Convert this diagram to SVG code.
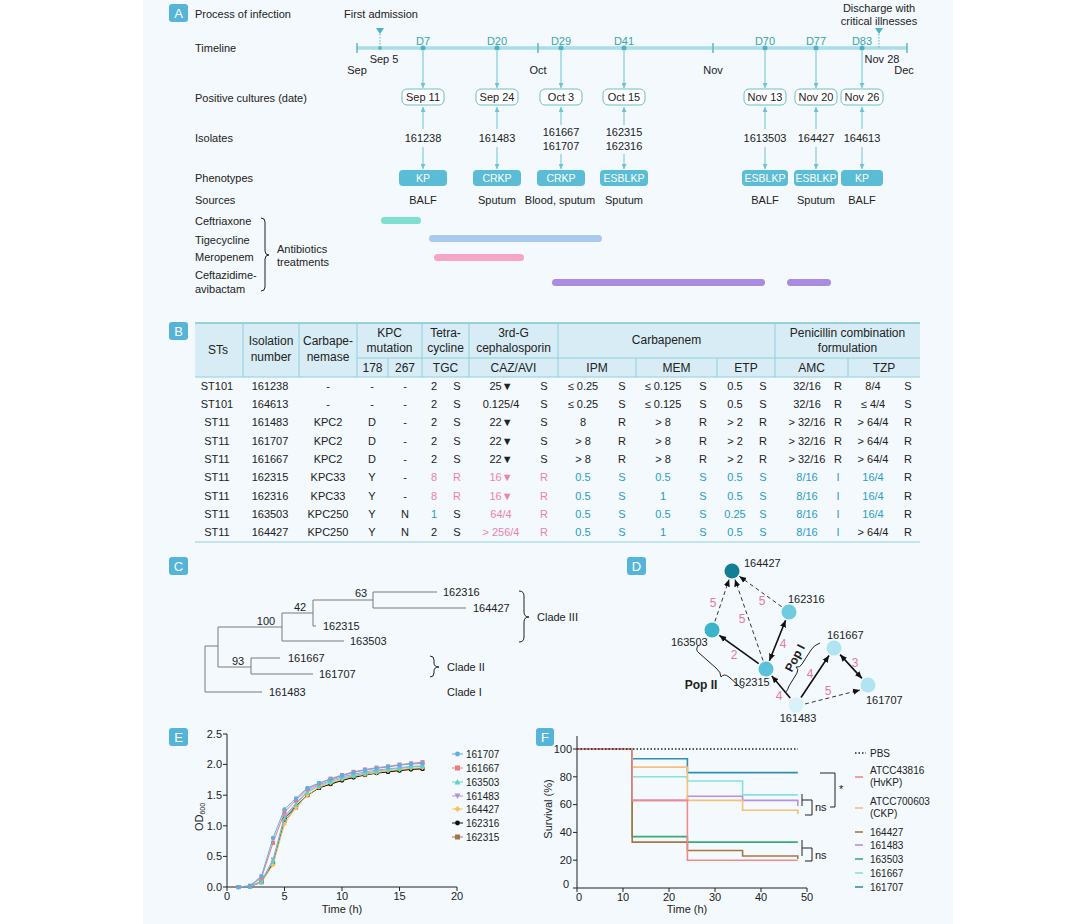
<svg xmlns="http://www.w3.org/2000/svg" width="1083" height="924" viewBox="0 0 1083 924">
<style>
text{font-family:"Liberation Sans",Arial,sans-serif;font-size:11px;fill:#222}
.m{text-anchor:middle}
.e{text-anchor:end}
.h{font-size:12px}
.s10{font-size:10px}
.tl{fill:#36a5a8}
.w{fill:#fff;font-size:10.5px}
.pk{fill:#ec83ab}
.bl{fill:#2a9cc6}
.bd{font-weight:bold;font-size:12px}
.ar{stroke:#6cc4d4;stroke-width:1;marker-end:url(#aA)}
.db{fill:#fff;stroke:#6dbfc8;stroke-width:1}
.pb{fill:#5bbcd5}
.badge{fill:#55b4d8}
.bt{fill:#fff;font-size:13px;text-anchor:middle}
.tr{fill:none;stroke:#7a7a7a;stroke-width:1}
.ax{fill:none;stroke:#222;stroke-width:1}
.gl{stroke:#8fd0de;stroke-width:1;fill:none}
.sol{stroke:#111;stroke-width:1.6;fill:none}
.das{stroke:#333;stroke-width:1;stroke-dasharray:4 3;fill:none}
.lab{fill:#e37aa3;font-size:12px;text-anchor:middle}
.sv{fill:none;stroke-width:1.6}
.ln{fill:none;stroke-width:1}
.br{fill:none;stroke:#222;stroke-width:1}
</style>
<defs>
<marker id="aA" viewBox="0 0 6 6" refX="6" refY="3" markerWidth="5" markerHeight="5" markerUnits="userSpaceOnUse" orient="auto"><path d="M0,0 L6,3 L0,6 z" fill="#6cc4d4"/></marker>
<marker id="aD" viewBox="0 0 8 8" refX="8" refY="4" markerWidth="7" markerHeight="7" markerUnits="userSpaceOnUse" orient="auto-start-reverse"><path d="M0,0.5 L8,4 L0,7.5 z" fill="#111"/></marker>
<marker id="m1" viewBox="-3 -3 6 6" markerWidth="5" markerHeight="5" markerUnits="userSpaceOnUse"><circle r="2.6" fill="#5ab0e8"/></marker>
<marker id="m2" viewBox="-3 -3 6 6" markerWidth="5" markerHeight="5" markerUnits="userSpaceOnUse"><rect x="-2.5" y="-2.5" width="5" height="5" fill="#ee7b7b"/></marker>
<marker id="m3" viewBox="-3 -3 6 6" markerWidth="5" markerHeight="5" markerUnits="userSpaceOnUse"><path d="M0,-3 L3,2.5 L-3,2.5 z" fill="#5fd3c3"/></marker>
<marker id="m4" viewBox="-3 -3 6 6" markerWidth="5" markerHeight="5" markerUnits="userSpaceOnUse"><path d="M0,3 L3,-2.5 L-3,-2.5 z" fill="#b98fdc"/></marker>
<marker id="m5" viewBox="-3 -3 6 6" markerWidth="5" markerHeight="5" markerUnits="userSpaceOnUse"><path d="M0,-3 L3,0 L0,3 L-3,0 z" fill="#f7c25c"/></marker>
<marker id="m6" viewBox="-3 -3 6 6" markerWidth="5" markerHeight="5" markerUnits="userSpaceOnUse"><circle r="2.6" fill="#111"/></marker>
<marker id="m7" viewBox="-3 -3 6 6" markerWidth="5" markerHeight="5" markerUnits="userSpaceOnUse"><rect x="-2.5" y="-2.5" width="5" height="5" fill="#a57443"/></marker>
</defs>
<rect x="0" y="0" width="1083" height="924" fill="#fff"/>
<rect x="143" y="0" width="810" height="924" fill="#f3f9fc"/>

<!-- Panel A -->
<g id="badgeA"><rect class="badge" x="169" y="4" width="19" height="18" rx="3"/><text class="bt" x="178.5" y="18">A</text></g>
<g id="panelA-labels">
<text x="195" y="18">Process of infection</text>
<text x="195" y="52">Timeline</text>
<text x="195" y="102">Positive cultures (date)</text>
<text x="195" y="142">Isolates</text>
<text x="195" y="182">Phenotypes</text>
<text x="195" y="204">Sources</text>
<text x="195" y="225">Ceftriaxone</text>
<text x="195" y="244">Tigecycline</text>
<text x="195" y="261">Meropenem</text>
<text x="195" y="279">Ceftazidime-</text>
<text x="195" y="293">avibactam</text>
<path class="br" d="M261,218 Q265,218 265,222 L265,251 Q265,255 269,255 Q265,255 265,259 L265,287 Q265,291 261,291"/>
<text x="277" y="253">Antibiotics</text>
<text x="277" y="266">treatments</text>
</g>
<g id="timeline">
<line x1="357" y1="48" x2="907" y2="48" stroke="#a9dde9" stroke-width="3.5"/>
<path d="M357,43V53M538,43V53M713,43V53M907,43V53" stroke="#5fb8c8" stroke-width="1.5"/>
<text class="m" x="357" y="74">Sep</text>
<text class="m" x="538" y="74">Oct</text>
<text class="m" x="713" y="74">Nov</text>
<text class="m" x="904" y="74">Dec</text>
<text class="m" x="381" y="18">First admission</text>
<path d="M376,28 L384,28 L380,34 z" fill="#4cb3c4"/>
<line x1="380" y1="34" x2="380" y2="48" stroke="#5fb8c8" stroke-dasharray="1.5 1.5"/>
<circle cx="380" cy="48" r="2" fill="#5fb8c8"/>
<text class="m" x="384" y="63">Sep 5</text>
<text class="m" x="879" y="12">Discharge with</text>
<text class="m" x="879" y="25">critical illnesses</text>
<path d="M875,28 L883,28 L879,34 z" fill="#4cb3c4"/>
<line x1="879" y1="34" x2="879" y2="48" stroke="#5fb8c8" stroke-dasharray="1.5 1.5"/>
<text class="m" x="882" y="63">Nov 28</text>
</g>
<g id="ev-D7">
<circle cx="423" cy="48" r="2.5" fill="#4cb3c4"/><text class="m tl" x="423" y="45">D7</text>
<line class="ar" x1="423" y1="51" x2="423" y2="88"/>
<rect class="db" x="402" y="89" width="42" height="16" rx="5"/><text class="m" x="423" y="101">Sep 11</text>
<line class="ar" x1="423" y1="129" x2="423" y2="107"/>
<text class="m" x="423" y="142">161238</text>
<line class="ar" x1="423" y1="147" x2="423" y2="169"/>
<rect class="pb" x="399" y="170" width="48" height="16" rx="4"/><text class="m w" x="423" y="182">KP</text>
<text class="m" x="423" y="204">BALF</text>
</g>
<g id="ev-D20">
<circle cx="497" cy="48" r="2.5" fill="#4cb3c4"/><text class="m tl" x="497" y="45">D20</text>
<line class="ar" x1="497" y1="51" x2="497" y2="88"/>
<rect class="db" x="476" y="89" width="42" height="16" rx="5"/><text class="m" x="497" y="101">Sep 24</text>
<line class="ar" x1="497" y1="129" x2="497" y2="107"/>
<text class="m" x="497" y="142">161483</text>
<line class="ar" x1="497" y1="147" x2="497" y2="169"/>
<rect class="pb" x="473" y="170" width="48" height="16" rx="4"/><text class="m w" x="497" y="182">CRKP</text>
<text class="m" x="497" y="204">Sputum</text>
</g>
<g id="ev-D29">
<circle cx="561" cy="48" r="2.5" fill="#4cb3c4"/><text class="m tl" x="561" y="45">D29</text>
<line class="ar" x1="561" y1="51" x2="561" y2="88"/>
<rect class="db" x="540" y="89" width="42" height="16" rx="5"/><text class="m" x="561" y="101">Oct 3</text>
<line class="ar" x1="561" y1="125" x2="561" y2="107"/>
<text class="m" x="561" y="136">161667</text><text class="m" x="561" y="150">161707</text>
<line class="ar" x1="561" y1="154" x2="561" y2="169"/>
<rect class="pb" x="537" y="170" width="48" height="16" rx="4"/><text class="m w" x="561" y="182">CRKP</text>
<text class="m" x="560" y="204">Blood, sputum</text>
</g>
<g id="ev-D41">
<circle cx="624" cy="48" r="2.5" fill="#4cb3c4"/><text class="m tl" x="624" y="45">D41</text>
<line class="ar" x1="624" y1="51" x2="624" y2="88"/>
<rect class="db" x="603" y="89" width="42" height="16" rx="5"/><text class="m" x="624" y="101">Oct 15</text>
<line class="ar" x1="624" y1="125" x2="624" y2="107"/>
<text class="m" x="624" y="136">162315</text><text class="m" x="624" y="150">162316</text>
<line class="ar" x1="624" y1="154" x2="624" y2="169"/>
<rect class="pb" x="600" y="170" width="48" height="16" rx="4"/><text class="m w" x="624" y="182">ESBLKP</text>
<text class="m" x="624" y="204">Sputum</text>
</g>
<g id="ev-D70">
<circle cx="765" cy="48" r="2.5" fill="#4cb3c4"/><text class="m tl" x="765" y="45">D70</text>
<line class="ar" x1="765" y1="51" x2="765" y2="88"/>
<rect class="db" x="744" y="89" width="42" height="16" rx="5"/><text class="m" x="765" y="101">Nov 13</text>
<line class="ar" x1="765" y1="129" x2="765" y2="107"/>
<text class="m" x="765" y="142">1613503</text>
<line class="ar" x1="765" y1="147" x2="765" y2="169"/>
<rect class="pb" x="742" y="170" width="46" height="16" rx="4"/><text class="m w" x="765" y="182">ESBLKP</text>
<text class="m" x="765" y="204">BALF</text>
</g>
<g id="ev-D77">
<circle cx="816" cy="48" r="2.5" fill="#4cb3c4"/><text class="m tl" x="816" y="45">D77</text>
<line class="ar" x1="816" y1="51" x2="816" y2="88"/>
<rect class="db" x="795" y="89" width="42" height="16" rx="5"/><text class="m" x="816" y="101">Nov 20</text>
<line class="ar" x1="816" y1="129" x2="816" y2="107"/>
<text class="m" x="816" y="142">164427</text>
<line class="ar" x1="816" y1="147" x2="816" y2="169"/>
<rect class="pb" x="794" y="170" width="44" height="16" rx="4"/><text class="m w" x="816" y="182">ESBLKP</text>
<text class="m" x="816" y="204">Sputum</text>
</g>
<g id="ev-D83">
<circle cx="862" cy="48" r="2.5" fill="#4cb3c4"/><text class="m tl" x="862" y="45">D83</text>
<line class="ar" x1="862" y1="51" x2="862" y2="88"/>
<rect class="db" x="841" y="89" width="42" height="16" rx="5"/><text class="m" x="862" y="101">Nov 26</text>
<line class="ar" x1="862" y1="129" x2="862" y2="107"/>
<text class="m" x="862" y="142">164613</text>
<line class="ar" x1="862" y1="147" x2="862" y2="169"/>
<rect class="pb" x="841" y="170" width="42" height="16" rx="4"/><text class="m w" x="862" y="182">KP</text>
<text class="m" x="862" y="204">BALF</text>
</g>
<g id="antibiotic-bars">
<rect x="381" y="217" width="40" height="7" rx="3.5" fill="#7edfd0"/>
<rect x="429" y="235" width="173" height="7" rx="3.5" fill="#a9c9ef"/>
<rect x="434" y="254" width="90" height="7" rx="3.5" fill="#f6a5c5"/>
<rect x="552" y="279" width="213" height="7" rx="3.5" fill="#a98be2"/>
<rect x="787" y="279" width="44" height="7" rx="3.5" fill="#a98be2"/>
</g>

<!-- Panel B -->
<g id="badgeB"><rect class="badge" x="169" y="322" width="19" height="18" rx="3"/><text class="bt" x="178.5" y="336">B</text></g>
<g id="table">
<rect x="195" y="323" width="725" height="54" fill="#d7ecf5"/>
<line x1="195" y1="323" x2="920" y2="323" stroke="#7fc6d6" stroke-width="1.3"/>
<path class="gl" d="M357,358H920M195,377H920M195,542H920"/>
<path class="gl" d="M243,323V377M299,323V377M357,323V377M422,323V377M469,323V377M558,323V377M775,323V377M388,358V377M636,358V377M717,358V377M848,358V377"/>
<g class="h">
<text class="m h" x="218" y="354">STs</text>
<text class="m h" x="271" y="345">Isolation</text><text class="m h" x="271" y="361">number</text>
<text class="m h" x="328" y="345">Carbape-</text><text class="m h" x="328" y="361">nemase</text>
<text class="m h" x="389.5" y="337">KPC</text><text class="m h" x="389.5" y="352">mutation</text>
<text class="m h" x="372.5" y="372">178</text><text class="m h" x="405" y="372">267</text>
<text class="m h" x="445.5" y="337">Tetra-</text><text class="m h" x="445.5" y="352">cycline</text>
<text class="m h" x="445.5" y="372">TGC</text>
<text class="m h" x="513.5" y="337">3rd-G</text><text class="m h" x="513.5" y="352">cephalosporin</text>
<text class="m h" x="513.5" y="372">CAZ/AVI</text>
<text class="m h" x="666.5" y="344">Carbapenem</text>
<text class="m h" x="847.5" y="337">Penicillin combination</text><text class="m h" x="847.5" y="352">formulation</text>
<text class="m h" x="597" y="372">IPM</text><text class="m h" x="676.5" y="372">MEM</text><text class="m h" x="746" y="372">ETP</text>
<text class="m h" x="811.5" y="372">AMC</text><text class="m h" x="884" y="372">TZP</text>
</g>
<g id="row1">
<text class="m" x="217" y="390">ST101</text><text class="m" x="270" y="390">161238</text><text class="m" x="328" y="390">-</text><text class="m" x="372" y="390">-</text><text class="m" x="405" y="390">-</text>
<text class="m" x="434" y="390">2</text><text class="m" x="457" y="390">S</text><text class="m" x="501" y="390">25▼</text><text class="m" x="544" y="390">S</text>
<text class="m" x="583" y="390">≤ 0.25</text><text class="m" x="622" y="390">S</text><text class="m" x="663" y="390">≤ 0.125</text><text class="m" x="703" y="390">S</text>
<text class="m" x="735" y="390">0.5</text><text class="m" x="763" y="390">S</text><text class="m" x="807" y="390">32/16</text><text class="m" x="838" y="390">R</text>
<text class="m" x="873" y="390">8/4</text><text class="m" x="908" y="390">S</text>
</g>
<g id="row2">
<text class="m" x="217" y="408">ST101</text><text class="m" x="270" y="408">164613</text><text class="m" x="328" y="408">-</text><text class="m" x="372" y="408">-</text><text class="m" x="405" y="408">-</text>
<text class="m" x="434" y="408">2</text><text class="m" x="457" y="408">S</text><text class="m" x="501" y="408">0.125/4</text><text class="m" x="544" y="408">S</text>
<text class="m" x="583" y="408">≤ 0.25</text><text class="m" x="622" y="408">S</text><text class="m" x="663" y="408">≤ 0.125</text><text class="m" x="703" y="408">S</text>
<text class="m" x="735" y="408">0.5</text><text class="m" x="763" y="408">S</text><text class="m" x="807" y="408">32/16</text><text class="m" x="838" y="408">R</text>
<text class="m" x="873" y="408">≤ 4/4</text><text class="m" x="908" y="408">S</text>
</g>
<g id="row3">
<text class="m" x="217" y="426">ST11</text><text class="m" x="270" y="426">161483</text><text class="m" x="328" y="426">KPC2</text><text class="m" x="372" y="426">D</text><text class="m" x="405" y="426">-</text>
<text class="m" x="434" y="426">2</text><text class="m" x="457" y="426">S</text><text class="m" x="501" y="426">22▼</text><text class="m" x="544" y="426">S</text>
<text class="m" x="583" y="426">8</text><text class="m" x="622" y="426">R</text><text class="m" x="663" y="426">&gt; 8</text><text class="m" x="703" y="426">R</text>
<text class="m" x="735" y="426">&gt; 2</text><text class="m" x="763" y="426">R</text><text class="m" x="807" y="426">&gt; 32/16</text><text class="m" x="838" y="426">R</text>
<text class="m" x="873" y="426">&gt; 64/4</text><text class="m" x="908" y="426">R</text>
</g>
<g id="row4">
<text class="m" x="217" y="445">ST11</text><text class="m" x="270" y="445">161707</text><text class="m" x="328" y="445">KPC2</text><text class="m" x="372" y="445">D</text><text class="m" x="405" y="445">-</text>
<text class="m" x="434" y="445">2</text><text class="m" x="457" y="445">S</text><text class="m" x="501" y="445">22▼</text><text class="m" x="544" y="445">S</text>
<text class="m" x="583" y="445">&gt; 8</text><text class="m" x="622" y="445">R</text><text class="m" x="663" y="445">&gt; 8</text><text class="m" x="703" y="445">R</text>
<text class="m" x="735" y="445">&gt; 2</text><text class="m" x="763" y="445">R</text><text class="m" x="807" y="445">&gt; 32/16</text><text class="m" x="838" y="445">R</text>
<text class="m" x="873" y="445">&gt; 64/4</text><text class="m" x="908" y="445">R</text>
</g>
<g id="row5">
<text class="m" x="217" y="463">ST11</text><text class="m" x="270" y="463">161667</text><text class="m" x="328" y="463">KPC2</text><text class="m" x="372" y="463">D</text><text class="m" x="405" y="463">-</text>
<text class="m" x="434" y="463">2</text><text class="m" x="457" y="463">S</text><text class="m" x="501" y="463">22▼</text><text class="m" x="544" y="463">S</text>
<text class="m" x="583" y="463">&gt; 8</text><text class="m" x="622" y="463">R</text><text class="m" x="663" y="463">&gt; 8</text><text class="m" x="703" y="463">R</text>
<text class="m" x="735" y="463">&gt; 2</text><text class="m" x="763" y="463">R</text><text class="m" x="807" y="463">&gt; 32/16</text><text class="m" x="838" y="463">R</text>
<text class="m" x="873" y="463">&gt; 64/4</text><text class="m" x="908" y="463">R</text>
</g>
<g id="row6">
<text class="m" x="217" y="481">ST11</text><text class="m" x="270" y="481">162315</text><text class="m" x="328" y="481">KPC33</text><text class="m" x="372" y="481">Y</text><text class="m" x="405" y="481">-</text>
<text class="m pk" x="434" y="481">8</text><text class="m pk" x="457" y="481">R</text><text class="m pk" x="501" y="481">16▼</text><text class="m pk" x="544" y="481">R</text>
<text class="m bl" x="583" y="481">0.5</text><text class="m bl" x="622" y="481">S</text><text class="m bl" x="663" y="481">0.5</text><text class="m bl" x="703" y="481">S</text>
<text class="m bl" x="735" y="481">0.5</text><text class="m bl" x="763" y="481">S</text><text class="m bl" x="807" y="481">8/16</text><text class="m bl" x="838" y="481">I</text>
<text class="m bl" x="873" y="481">16/4</text><text class="m" x="908" y="481">R</text>
</g>
<g id="row7">
<text class="m" x="217" y="500">ST11</text><text class="m" x="270" y="500">162316</text><text class="m" x="328" y="500">KPC33</text><text class="m" x="372" y="500">Y</text><text class="m" x="405" y="500">-</text>
<text class="m pk" x="434" y="500">8</text><text class="m pk" x="457" y="500">R</text><text class="m pk" x="501" y="500">16▼</text><text class="m pk" x="544" y="500">R</text>
<text class="m bl" x="583" y="500">0.5</text><text class="m bl" x="622" y="500">S</text><text class="m bl" x="663" y="500">1</text><text class="m bl" x="703" y="500">S</text>
<text class="m bl" x="735" y="500">0.5</text><text class="m bl" x="763" y="500">S</text><text class="m bl" x="807" y="500">8/16</text><text class="m bl" x="838" y="500">I</text>
<text class="m bl" x="873" y="500">16/4</text><text class="m" x="908" y="500">R</text>
</g>
<g id="row8">
<text class="m" x="217" y="518">ST11</text><text class="m" x="270" y="518">163503</text><text class="m" x="328" y="518">KPC250</text><text class="m" x="372" y="518">Y</text><text class="m" x="405" y="518">N</text>
<text class="m bl" x="434" y="518">1</text><text class="m" x="457" y="518">S</text><text class="m pk" x="501" y="518">64/4</text><text class="m pk" x="544" y="518">R</text>
<text class="m bl" x="583" y="518">0.5</text><text class="m bl" x="622" y="518">S</text><text class="m bl" x="663" y="518">0.5</text><text class="m bl" x="703" y="518">S</text>
<text class="m bl" x="735" y="518">0.25</text><text class="m bl" x="763" y="518">S</text><text class="m bl" x="807" y="518">8/16</text><text class="m bl" x="838" y="518">I</text>
<text class="m bl" x="873" y="518">16/4</text><text class="m" x="908" y="518">R</text>
</g>
<g id="row9">
<text class="m" x="217" y="536">ST11</text><text class="m" x="270" y="536">164427</text><text class="m" x="328" y="536">KPC250</text><text class="m" x="372" y="536">Y</text><text class="m" x="405" y="536">N</text>
<text class="m" x="434" y="536">2</text><text class="m" x="457" y="536">S</text><text class="m pk" x="501" y="536">&gt; 256/4</text><text class="m pk" x="544" y="536">R</text>
<text class="m bl" x="583" y="536">0.5</text><text class="m bl" x="622" y="536">S</text><text class="m bl" x="663" y="536">1</text><text class="m bl" x="703" y="536">S</text>
<text class="m bl" x="735" y="536">0.5</text><text class="m bl" x="763" y="536">S</text><text class="m bl" x="807" y="536">8/16</text><text class="m bl" x="838" y="536">I</text>
<text class="m" x="873" y="536">&gt; 64/4</text><text class="m" x="908" y="536">R</text>
</g>
</g>

<!-- Panel C -->
<g id="badgeC"><rect class="badge" x="169" y="557" width="19" height="18" rx="3"/><text class="bt" x="178.5" y="571">C</text></g>
<g id="tree">
<path class="tr" d="M205,646V692H262M205,646H218M218,627V667M218,667H251M251,658V674M251,658H280M251,674H313M218,627H282M282,613V641M282,641H344M282,613H313M313,600V626M313,626H316M313,600H373M373,592V608M373,592H437M373,608H466"/>
<text x="269" y="696">161483</text>
<text x="288" y="662">161667</text>
<text x="319" y="678">161707</text>
<text x="350" y="645">163503</text>
<text x="323" y="630">162315</text>
<text x="443" y="596">162316</text>
<text x="473" y="612">164427</text>
<text class="m" x="238" y="665">93</text>
<text class="m" x="266" y="625">100</text>
<text class="m" x="300" y="611">42</text>
<text class="m" x="361" y="597">63</text>
<path class="br" d="M519,591 Q524,591 524,596 L524,612 Q524,617 529,617 Q524,617 524,622 L524,637 Q524,642 519,642"/>
<text x="537" y="621">Clade III</text>
<path class="br" d="M430,656 Q434,656 434,660 V663 Q434,667 439,667 Q434,667 434,671 V673 Q434,677 430,677"/>
<text x="447" y="671">Clade II</text>
<text x="447" y="696">Clade I</text>
</g>

<!-- Panel D -->
<g id="badgeD"><rect class="badge" x="627" y="557" width="19" height="18" rx="3"/><text class="bt" x="636.5" y="571">D</text></g>
<g id="connectors">
<line class="das" x1="714.9" y1="621.5" x2="729.1" y2="579.5" marker-end="url(#aD)"/>
<line class="das" x1="763" y1="660.5" x2="735" y2="579.5" marker-end="url(#aD)"/>
<line class="das" x1="781.7" y1="606.7" x2="739.3" y2="576.3" marker-end="url(#aD)"/>
<line class="sol" x1="769.4" y1="660.7" x2="785.6" y2="620.3" marker-start="url(#aD)" marker-end="url(#aD)"/>
<line class="sol" x1="758.7" y1="663.7" x2="719.3" y2="635.3" marker-end="url(#aD)"/>
<line class="sol" x1="790.2" y1="698.1" x2="771.8" y2="675.9" marker-end="url(#aD)"/>
<line class="sol" x1="801" y1="697.5" x2="829" y2="655.5" marker-end="url(#aD)"/>
<line class="sol" x1="840.1" y1="654.6" x2="861.9" y2="678.4" marker-start="url(#aD)" marker-end="url(#aD)"/>
<line class="das" x1="805" y1="704" x2="860" y2="690" marker-end="url(#aD)"/>
<text class="lab" x="713" y="607">5</text>
<text class="lab" x="742" y="623">5</text>
<text class="lab" x="762" y="605">5</text>
<text class="lab" x="783" y="648">4</text>
<text class="lab" x="734" y="659">2</text>
<text class="lab" x="779" y="700">4</text>
<text class="lab" x="810" y="678">4</text>
<text class="lab" x="855" y="667">3</text>
<text class="lab" x="828" y="695">5</text>
</g>
<g id="n164427"><circle cx="732" cy="571" r="7.5" fill="#127f95"/><text x="744" y="567">164427</text></g>
<g id="n162316"><circle cx="789" cy="612" r="7.5" fill="#6fcbe0"/><text x="788" y="603">162316</text></g>
<g id="n163503"><circle cx="712" cy="630" r="7.5" fill="#3bb3c9"/><text x="671" y="646">163503</text></g>
<g id="n162315"><circle cx="766" cy="669" r="7.5" fill="#5cc2da"/><text x="733" y="686">162315</text></g>
<g id="n161667"><circle cx="834" cy="648" r="7.5" fill="#b0e4f2"/><text x="827" y="639">161667</text></g>
<g id="n161707"><circle cx="868" cy="685" r="7.5" fill="#b0e4f2"/><text x="866" y="704">161707</text></g>
<g id="n161483"><circle cx="796" cy="705" r="7.5" fill="#d9f1f8"/><text class="m" x="798" y="722">161483</text></g>
<g id="pops">
<path class="br" d="M785,693 Q788,690 789,686 L797,673 Q799,669 796,667 Q800,668 802,664 L811,650 Q814,645 820,643"/>
<text class="bd m" transform="translate(795,658) rotate(-62)" x="0" y="4">Pop I</text>
<path class="br" d="M698,646 Q695,650 699,653 L716,668 Q721,672 721,677 Q724,673 729,677 L739,686 Q743,690 744,686"/>
<text class="bd m" x="701" y="689">Pop II</text>
</g>

<!-- Panel E -->
<g id="badgeE"><rect class="badge" x="169" y="728" width="19" height="18" rx="3"/><text class="bt" x="178.5" y="742">E</text></g>
<g id="chartE">
<path class="ax" d="M227,734V887H457M223,734H227M223,764.4H227M223,795.2H227M223,825.8H227M223,856.4H227M223,887H227M227,887V891M284.5,887V891M342,887V891M399.5,887V891M457,887V891"/>
<text class="e" x="222" y="738">2.5</text><text class="e" x="222" y="768">2.0</text><text class="e" x="222" y="799">1.5</text>
<text class="e" x="222" y="830">1.0</text><text class="e" x="222" y="860">0.5</text><text class="e" x="222" y="891">0.0</text>
<text class="m" x="227" y="900">0</text><text class="m" x="284.5" y="900">5</text><text class="m" x="342" y="900">10</text><text class="m" x="399.5" y="900">15</text><text class="m" x="457" y="900">20</text>
<text class="m" x="342" y="913">Time (h)</text>
<text class="m" transform="translate(203,817) rotate(-90)" x="0" y="0">OD<tspan font-size="7" dy="2">600</tspan></text>
<polyline class="ln" stroke="#a57443" marker-start="url(#m7)" marker-mid="url(#m7)" marker-end="url(#m7)" points="238.5,887 250,886.4 261.5,882.1 273,863.7 284.5,820.9 296,807.4 307.5,795.2 319,787.9 330.5,783.6 342,779.9 353.5,776.8 365,774.4 376.5,772.6 388,771.3 399.5,770.1 411,768.9 422.5,768.3"/>
<polyline class="ln" stroke="#111" marker-start="url(#m6)" marker-mid="url(#m6)" marker-end="url(#m6)" points="238.5,887 250,886.4 261.5,882.1 273,862.5 284.5,818.5 296,806.2 307.5,795.2 319,787.9 330.5,784.2 342,780.5 353.5,777.5 365,775 376.5,773.2 388,771.9 399.5,770.7 411,769.5 422.5,768.9"/>
<polyline class="ln" stroke="#f7c25c" marker-start="url(#m5)" marker-mid="url(#m5)" marker-end="url(#m5)" points="238.5,887 250,886.4 261.5,882.1 273,865 284.5,824 296,807.4 307.5,795.2 319,787.2 330.5,783 342,779.3 353.5,776.2 365,774.4 376.5,772.6 388,770.7 399.5,769.5 411,768.3 422.5,767.7"/>
<polyline class="ln" stroke="#b98fdc" marker-start="url(#m4)" marker-mid="url(#m4)" marker-end="url(#m4)" points="238.5,887 250,886.4 261.5,880.9 273,859.5 284.5,816.6 296,803.2 307.5,790.9 319,784.8 330.5,780.5 342,776.8 353.5,774.4 365,771.9 376.5,770.1 388,768.9 399.5,767.7 411,766.4 422.5,765.8"/>
<polyline class="ln" stroke="#5fd3c3" marker-start="url(#m3)" marker-mid="url(#m3)" marker-end="url(#m3)" points="238.5,887 250,886.4 261.5,882.1 273,861.3 284.5,818.5 296,804.4 307.5,792.1 319,786 330.5,781.7 342,778.1 353.5,775.6 365,773.2 376.5,771.3 388,769.5 399.5,768.3 411,767 422.5,766.4"/>
<polyline class="ln" stroke="#ee7b7b" marker-start="url(#m2)" marker-mid="url(#m2)" marker-end="url(#m2)" points="238.5,887 250,885.8 261.5,877.8 273,842.9 284.5,812.3 296,800.1 307.5,789.1 319,783.6 330.5,778.7 342,775 353.5,771.9 365,769.5 376.5,767.7 388,766.4 399.5,764.6 411,763.4 422.5,762.2"/>
<polyline class="ln" stroke="#5ab0e8" marker-start="url(#m1)" marker-mid="url(#m1)" marker-end="url(#m1)" points="238.5,887 250,885.8 261.5,876 273,838 284.5,809.3 296,798.3 307.5,787.9 319,783 330.5,779.3 342,775.6 353.5,772.6 365,770.1 376.5,768.3 388,767 399.5,765.2 411,764 422.5,763.4"/>
</g>
<g id="legendE">
<line class="ln" stroke="#5ab0e8" x1="452" y1="754" x2="463" y2="754"/><circle cx="457.5" cy="754" r="2.4" fill="#5ab0e8"/><text class="s10" x="466" y="758">161707</text>
<line class="ln" stroke="#ee7b7b" x1="452" y1="768" x2="463" y2="768"/><rect x="455" y="765.5" width="5" height="5" fill="#ee7b7b"/><text class="s10" x="466" y="772">161667</text>
<line class="ln" stroke="#5fd3c3" x1="452" y1="782" x2="463" y2="782"/><path d="M457.5,779 L460.5,784.5 L454.5,784.5 z" fill="#5fd3c3"/><text class="s10" x="466" y="786">163503</text>
<line class="ln" stroke="#b98fdc" x1="452" y1="796" x2="463" y2="796"/><path d="M457.5,799 L460.5,793.5 L454.5,793.5 z" fill="#b98fdc"/><text class="s10" x="466" y="800">161483</text>
<line class="ln" stroke="#f7c25c" x1="452" y1="809" x2="463" y2="809"/><path d="M457.5,806 L460.5,809 L457.5,812 L454.5,809 z" fill="#f7c25c"/><text class="s10" x="466" y="813">164427</text>
<line class="ln" stroke="#111" x1="452" y1="823" x2="463" y2="823"/><circle cx="457.5" cy="823" r="2.4" fill="#111"/><text class="s10" x="466" y="827">162316</text>
<line class="ln" stroke="#a57443" x1="452" y1="837" x2="463" y2="837"/><rect x="455" y="834.5" width="5" height="5" fill="#a57443"/><text class="s10" x="466" y="841">162315</text>
</g>

<!-- Panel F -->
<g id="badgeF"><rect class="badge" x="536" y="728" width="18" height="18" rx="3"/><text class="bt" x="545" y="742">F</text></g>
<g id="chartF">
<path class="ax" d="M577,736V888H807M573,749H577M573,776.8H577M573,804.6H577M573,832.4H577M573,860.2H577M573,888H577M577,888V892M623,888V892M669,888V892M715,888V892M761,888V892M807,888V892"/>
<text class="e" x="572" y="753">100</text><text class="e" x="572" y="781">80</text><text class="e" x="572" y="808">60</text>
<text class="e" x="572" y="836">40</text><text class="e" x="572" y="864">20</text><text class="e" x="569" y="888">0</text>
<text class="m" x="579" y="901">0</text><text class="m" x="623" y="901">10</text><text class="m" x="669" y="901">20</text><text class="m" x="715" y="901">30</text><text class="m" x="761" y="901">40</text><text class="m" x="807" y="901">50</text>
<text class="m" x="687" y="913">Time (h)</text>
<text class="m" transform="translate(552,809) rotate(-90)" x="0" y="0">Survival (%)</text>
<path class="sv" stroke="#2f8fb0" d="M577,749H632.2V758.7H687.4V772.6H797.8"/>
<path class="sv" stroke="#86e2da" d="M577,749H632.2V776.8H687.4V781H742.6V794.9H797.8"/>
<path class="sv" stroke="#b78fe0" d="M577,749H632.2V800.4H687.4V796.3H742.6V800.4H797.8V806"/>
<path class="sv" stroke="#f7c07a" d="M577,749H632.2V767.1H687.4V800.4H742.6V810.2H797.8V814"/>
<path class="sv" stroke="#3caa78" d="M577,749H632.2V836.6H687.4V842.1H797.8"/>
<path class="sv" stroke="#a87840" d="M577,749H632.2V842.1H687.4V850.5H742.6V856H797.8V859"/>
<path class="sv" stroke="#f08a8a" d="M577,749H632.2V800.4H687.4V860.2H797.8"/>
<path fill="none" stroke="#222" stroke-width="1.3" stroke-dasharray="1.5 2" d="M577,749H798"/>
<path class="br" d="M802,794V806M802,800H812V815H805"/>
<text x="815" y="811">ns</text>
<path class="br" d="M820,773H835V807H830"/>
<text x="839" y="793">*</text>
<path class="br" d="M802,840V856M802,848H812V861H805"/>
<text x="815" y="859">ns</text>
</g>
<g id="legendF">
<path fill="none" stroke="#222" stroke-width="1.3" stroke-dasharray="1.5 2" d="M855,753H866"/><text class="s10" x="870" y="757">PBS</text>
<line class="sv" stroke="#f08a8a" x1="855" y1="777" x2="863" y2="777"/><text class="s10" x="870" y="774">ATCC43816</text><text class="s10" x="870" y="786">(HvKP)</text>
<line class="sv" stroke="#f7c07a" x1="855" y1="808" x2="863" y2="808"/><text class="s10" x="870" y="805">ATCC700603</text><text class="s10" x="870" y="817">(CKP)</text>
<line class="sv" stroke="#a87840" x1="855" y1="832" x2="863" y2="832"/><text class="s10" x="870" y="836">164427</text>
<line class="sv" stroke="#b78fe0" x1="855" y1="845" x2="863" y2="845"/><text class="s10" x="870" y="849">161483</text>
<line class="sv" stroke="#3caa78" x1="855" y1="859" x2="863" y2="859"/><text class="s10" x="870" y="863">163503</text>
<line class="sv" stroke="#86e2da" x1="855" y1="873" x2="863" y2="873"/><text class="s10" x="870" y="877">161667</text>
<line class="sv" stroke="#2f8fb0" x1="855" y1="887" x2="863" y2="887"/><text class="s10" x="870" y="891">161707</text>
</g>
</svg>
